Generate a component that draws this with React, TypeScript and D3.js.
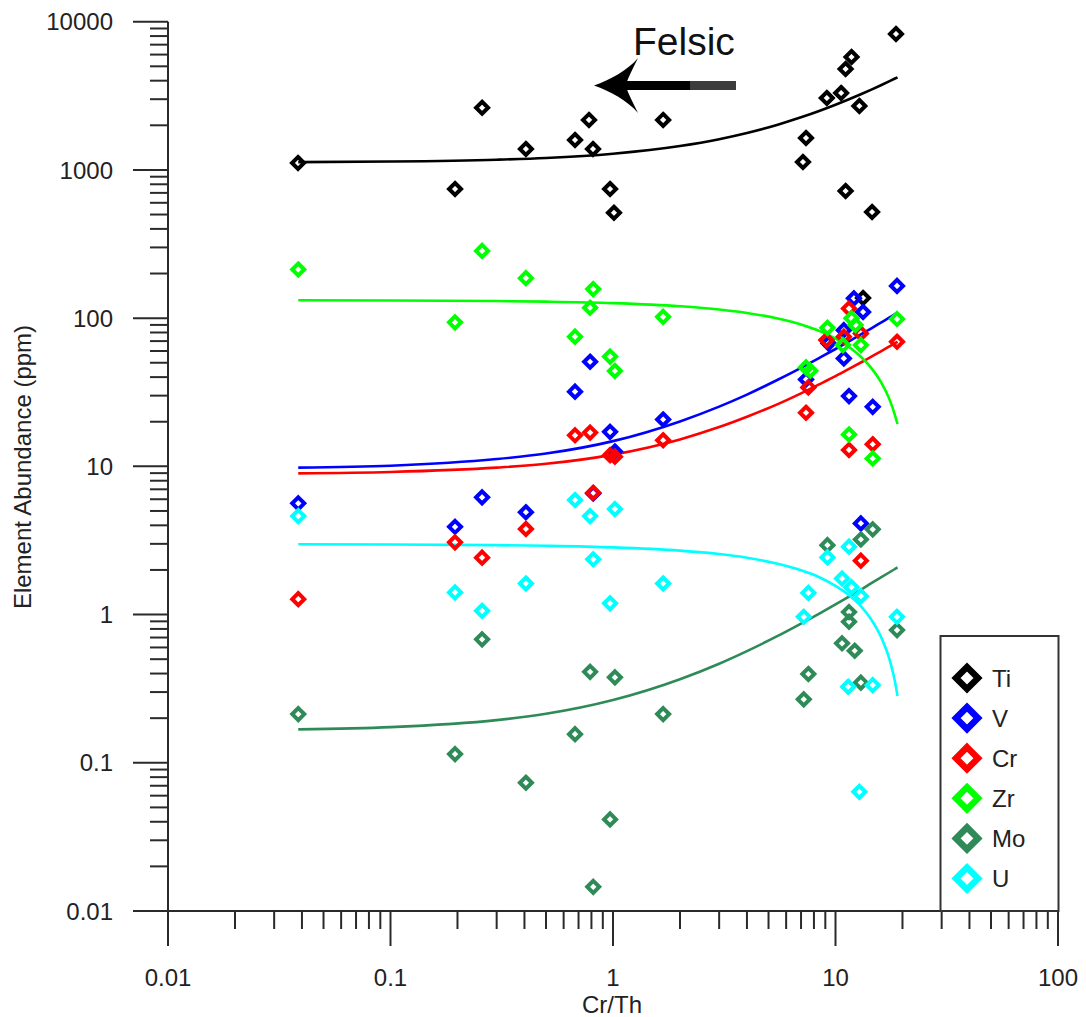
import React from "react";
import * as d3 from "d3";

// ---- Data ----
const seriesNames = ["Ti", "V", "Cr", "Zr", "Mo", "U"];
const seriesColors = ["#000000", "#0000ff", "#ff0000", "#00ff00", "#2e8b57", "#00ffff"];

const TiX = [0.0384, 0.195, 0.258, 0.406, 0.675, 0.78, 0.813, 0.97, 1.01, 1.68, 7.14, 7.37, 9.14, 10.6, 11.1, 11.8, 12.8, 11.1, 14.6, 18.7, 13.3];
const TiY = [1113, 743, 2628, 1384, 1592, 2173, 1384, 743, 514, 2173, 1131, 1641, 3055, 3303, 4795, 5779, 2700, 721, 520, 8260, 136.7];

const VX = [0.0385, 0.195, 0.258, 0.406, 0.789, 0.675, 0.97, 1.68, 1.02, 0.815, 18.9, 12.1, 13.3, 10.9, 9.3, 10.9, 7.37, 11.5, 14.7, 13];
const VY = [5.63, 3.91, 6.18, 4.9, 50.8, 31.9, 17.1, 20.7, 12.6, 6.57, 165, 136, 110, 83, 67.6, 53.5, 38.6, 29.8, 25.2, 4.12];

const CrX = [0.0385, 0.195, 0.258, 0.406, 0.675, 0.789, 0.97, 1.02, 1.68, 0.815, 11.5, 13, 9.1, 10.9, 7.55, 7.37, 18.9, 11.5, 14.7, 13];
const CrY = [1.27, 3.07, 2.42, 3.78, 16.2, 16.9, 11.9, 11.6, 15.0, 6.64, 116, 78.9, 71.1, 75, 34.1, 23.0, 69.3, 12.9, 14.1, 2.31];

const ZrX = [0.0385, 0.258, 0.406, 0.195, 0.815, 0.789, 1.68, 0.675, 0.97, 1.02, 9.2, 11.8, 12.3, 10.8, 13, 7.37, 7.7, 18.9, 11.5, 14.7];
const ZrY = [213, 284, 186, 93.7, 157, 117.5, 102, 75, 55, 44, 86, 99.7, 90, 65.8, 65.8, 46.5, 44.2, 98.6, 16.4, 11.3];

const MoX = [0.0385, 0.195, 0.258, 0.406, 0.789, 1.02, 1.68, 0.675, 0.97, 0.815, 14.7, 13, 9.2, 11.5, 11.5, 10.7, 12.2, 18.9, 7.55, 7.2, 13];
const MoY = [0.213, 0.1145, 0.681, 0.0733, 0.411, 0.377, 0.213, 0.156, 0.0415, 0.01456, 3.76, 3.21, 2.94, 1.04, 0.894, 0.64, 0.57, 0.786, 0.397, 0.268, 0.347];

const UX = [0.0385, 0.195, 0.258, 0.406, 0.675, 0.789, 1.02, 0.815, 0.97, 1.68, 9.2, 11.5, 10.7, 11.8, 13, 7.55, 7.2, 18.9, 11.4, 14.7, 12.8];
const UY = [4.62, 1.41, 1.06, 1.62, 5.93, 4.62, 5.15, 2.36, 1.19, 1.62, 2.43, 2.87, 1.75, 1.53, 1.33, 1.4, 0.966, 0.966, 0.326, 0.334, 0.0637];

// Mixing curves
const curveX = [0.0385, 0.1, 0.3, 0.5, 1, 2, 3, 4, 5.5, 7, 8.5, 10, 11.5, 13, 14.5, 16, 17.5, 18.5, 19];
const TiCurve = [1129, 1139, 1172, 1204, 1286, 1449, 1611, 1774, 2018, 2263, 2507, 2751, 2995, 3239, 3484, 3728, 3972, 4135, 4216];
const VCurve = [9.8, 10.1, 11.2, 12.2, 14.8, 20.1, 25.3, 30.5, 38.4, 46.2, 54.1, 61.9, 69.7, 77.6, 85.4, 93.3, 101.1, 106.4, 109];
const CrCurve = [8.96, 9.16, 9.8, 10.4, 12.0, 15.2, 18.4, 21.6, 26.3, 31.1, 35.9, 40.6, 45.4, 50.2, 55.0, 59.7, 64.5, 67.7, 69.3];
const ZrCurve = [132, 131.6, 130.4, 129.2, 126.3, 120.3, 114.4, 108.4, 99.5, 90.6, 81.7, 72.8, 63.9, 54.9, 46.0, 37.1, 28.2, 22.2, 19.3];
const MoCurve = [0.168, 0.174, 0.194, 0.214, 0.265, 0.366, 0.466, 0.567, 0.718, 0.87, 1.02, 1.17, 1.32, 1.47, 1.63, 1.78, 1.93, 2.03, 2.08];
const UCurve = [2.98, 2.97, 2.94, 2.91, 2.84, 2.7, 2.56, 2.42, 2.2, 1.99, 1.78, 1.56, 1.35, 1.14, 0.923, 0.709, 0.496, 0.353, 0.282];

const xTickLabels = ["0.01", "0.1", "1", "10", "100"];
const yTickLabels = ["0.01", "0.1", "1", "10", "100", "1000", "10000"];
const xTitle = "Cr/Th";
const yTitle = "Element Abundance (ppm)";
const annotation = "Felsic";

const seriesX = [TiX, VX, CrX, ZrX, MoX, UX];
const seriesY = [TiY, VY, CrY, ZrY, MoY, UY];
const curvesY = [TiCurve, VCurve, CrCurve, ZrCurve, MoCurve, UCurve];

const FONT = "'Liberation Sans', Arial, Helvetica, sans-serif";

function diamond(r: number) {
  return `M0,${-r}L${r},0L0,${r}L${-r},0Z`;
}

export default function App() {
  const W = 1086;
  const H = 1017;
  const x = d3.scaleLog().domain([0.01, 100]).range([168, 1058]);
  const y = d3.scaleLog().domain([0.01, 10000]).range([911, 21.7]);

  const xMajor = xTickLabels.map(Number);
  const yMajor = yTickLabels.map(Number);
  const xMinor: number[] = [];
  xMajor.slice(0, -1).forEach((d) => {
    for (let k = 2; k <= 9; k++) xMinor.push(d * k);
  });
  const yMinor: number[] = [];
  yMajor.slice(0, -1).forEach((d) => {
    for (let k = 2; k <= 9; k++) yMinor.push(d * k);
  });

  const line = d3
    .line<[number, number]>()
    .x((d) => x(d[0]))
    .y((d) => y(d[1]))
    .curve(d3.curveMonotoneX);

  const axisColor = "#2a2a2a";
  const textColor = "#222";
  const x0 = x(0.01);
  const yBase = y(0.01);

  const legendX0 = 940.5;
  const legendX1 = 1058.5;
  const legendY0 = 636;
  const legendRowY = (i: number) => 678 + i * 40.1;

  return (
    <svg
      width={W}
      height={H}
      style={{ position: "absolute", left: 0, top: 0, background: "#fff" }}
      fontFamily={FONT}
    >
      <rect x={0} y={0} width={W} height={H} fill="#fff" />

      {/* Axes lines */}
      <line x1={x0} x2={x(100)} y1={yBase} y2={yBase} stroke={axisColor} strokeWidth={2} />
      <line x1={x0} x2={x0} y1={y(10000)} y2={yBase} stroke={axisColor} strokeWidth={2} />

      {/* X ticks */}
      {xMajor.map((d, i) => (
        <g key={"xm" + i}>
          <line x1={x(d)} x2={x(d)} y1={yBase} y2={yBase + 35} stroke={axisColor} strokeWidth={2} />
          <text x={x(d)} y={985.5} textAnchor="middle" fontSize={24} fill={textColor}>
            {xTickLabels[i]}
          </text>
        </g>
      ))}
      {xMinor.map((d, i) => (
        <line key={"xn" + i} x1={x(d)} x2={x(d)} y1={yBase} y2={yBase + 18} stroke={axisColor} strokeWidth={2} />
      ))}

      {/* Y ticks */}
      {yMajor.map((d, i) => (
        <g key={"ym" + i}>
          <line x1={x0 - 35} x2={x0} y1={y(d)} y2={y(d)} stroke={axisColor} strokeWidth={2} />
          <text x={113} y={y(d)} dy="0.36em" textAnchor="end" fontSize={24} fill={textColor}>
            {yTickLabels[i]}
          </text>
        </g>
      ))}
      {yMinor.map((d, i) => (
        <line key={"yn" + i} x1={x0 - 18} x2={x0} y1={y(d)} y2={y(d)} stroke={axisColor} strokeWidth={2} />
      ))}

      {/* Axis titles */}
      <text x={612} y={1013} textAnchor="middle" fontSize={24} fill={textColor}>
        {xTitle}
      </text>
      <text
        transform={`translate(31,467) rotate(-90)`}
        textAnchor="middle"
        fontSize={24}
        fill={textColor}
      >
        {yTitle}
      </text>

      {/* Curves */}
      {curvesY.map((cy, s) => (
        <path
          key={"c" + s}
          d={line(curveX.map((cx, i) => [cx, cy[i]] as [number, number])) || ""}
          fill="none"
          stroke={seriesColors[s]}
          strokeWidth={2.6}
        />
      ))}

      {/* Points */}
      {seriesX.map((xs, s) => (
        <g key={"s" + s}>
          {xs.map((xv, i) => (
            <path
              key={i}
              transform={`translate(${x(xv)},${y(seriesY[s][i])})`}
              d={diamond(6)}
              fill="none"
              stroke={seriesColors[s]}
              strokeWidth={4}
            />
          ))}
        </g>
      ))}

      {/* Felsic arrow */}
      <rect x={622} y={81} width={70} height={9} fill="#000" />
      <rect x={690} y={81} width={46} height={9} fill="#3c3c3c" />
      <path
        d="M594,85.5 C610,80 628,70 638,58 C631,72 627,80 626,85.5 C627,91 631,99 638,113 C628,101 610,91 594,85.5 Z"
        fill="#000"
      />
      <text x={633} y={55} fontSize={39} fill="#111">
        {annotation}
      </text>

      {/* Legend */}
      <rect
        x={legendX0}
        y={legendY0}
        width={legendX1 - legendX0}
        height={yBase - legendY0}
        fill="#fff"
        stroke="#333"
        strokeWidth={2}
      />
      {seriesNames.map((name, i) => (
        <g key={"l" + i}>
          <path
            transform={`translate(967,${legendRowY(i)})`}
            d={diamond(11)}
            fill="none"
            stroke={seriesColors[i]}
            strokeWidth={6.5}
          />
          <text x={992} y={legendRowY(i)} dy="0.36em" fontSize={24} fill={textColor}>
            {name}
          </text>
        </g>
      ))}
    </svg>
  );
}
